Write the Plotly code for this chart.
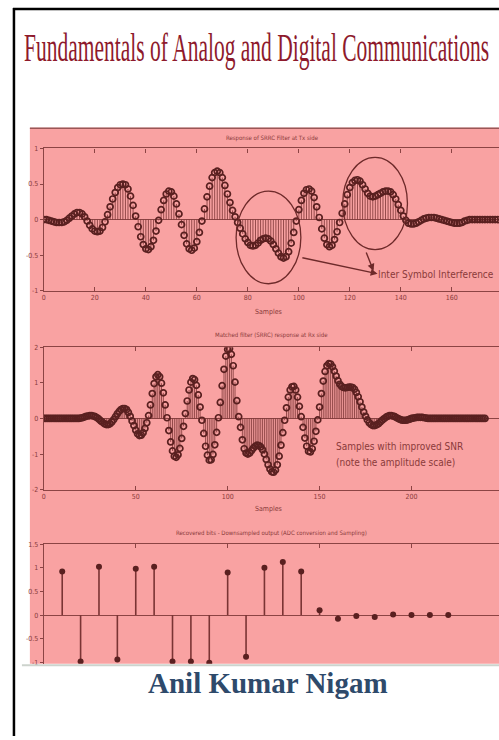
import plotly.graph_objects as go

# ---------------- data ----------------
tx_samples = list(range(0, 179))
tx_values = [
    0.00, 0.00, -0.01, -0.02, -0.03, -0.04, -0.04, -0.04, -0.03, -0.01,
    0.02, 0.05, 0.08, 0.10, 0.10, 0.08, 0.04, -0.02, -0.08, -0.13,
    -0.16, -0.17, -0.16, -0.11, -0.03, 0.07, 0.18, 0.29, 0.38, 0.45,
    0.49, 0.50, 0.49, 0.43, 0.33, 0.20, 0.05, -0.10, -0.24, -0.35,
    -0.41, -0.42, -0.38, -0.29, -0.16, -0.01, 0.14, 0.27, 0.36, 0.40,
    0.39, 0.33, 0.22, 0.08, -0.07, -0.22, -0.34, -0.41, -0.43, -0.40,
    -0.31, -0.18, -0.02, 0.15, 0.32, 0.47, 0.59, 0.66, 0.68, 0.66,
    0.59, 0.48, 0.36, 0.24, 0.13, 0.04, -0.04, -0.12, -0.20, -0.27,
    -0.32, -0.36, -0.37, -0.36, -0.33, -0.29, -0.27, -0.26, -0.27, -0.30,
    -0.35, -0.41, -0.47, -0.52, -0.54, -0.52, -0.45, -0.33, -0.18, -0.02,
    0.14, 0.27, 0.37, 0.42, 0.43, 0.40, 0.31, 0.18, 0.03, -0.13,
    -0.26, -0.35, -0.38, -0.36, -0.28, -0.17, -0.04, 0.09, 0.22, 0.35,
    0.45, 0.52, 0.55, 0.56, 0.54, 0.49, 0.43, 0.37, 0.33, 0.32,
    0.33, 0.35, 0.37, 0.39, 0.40, 0.40, 0.39, 0.35, 0.29, 0.21,
    0.13, 0.05, -0.01, -0.05, -0.06, -0.06, -0.05, -0.03, -0.01, 0.01,
    0.02, 0.03, 0.03, 0.03, 0.02, 0.01, 0.00, -0.01, -0.02, -0.03,
    -0.04, -0.05, -0.05, -0.05, -0.04, -0.02, -0.01, 0.00, 0.00, 0.00,
    0.00, 0.00, 0.00, 0.00, 0.00, 0.00, 0.00, 0.00, 0.00,
]

rx_samples = list(range(0, 241))
rx_values = [
    0.00, 0.00, 0.00, 0.00, 0.00, 0.00, 0.00, 0.00, 0.00, 0.00,
    0.00, 0.00, 0.00, 0.00, 0.00, 0.00, 0.00, 0.00, 0.00, 0.00,
    0.01, 0.02, 0.04, 0.06, 0.07, 0.08, 0.08, 0.07, 0.05, 0.02,
    -0.02, -0.07, -0.11, -0.15, -0.17, -0.17, -0.15, -0.10, -0.03, 0.05,
    0.13, 0.20, 0.25, 0.28, 0.28, 0.25, 0.17, 0.06, -0.07, -0.20,
    -0.33, -0.43, -0.48, -0.47, -0.40, -0.28, -0.12, 0.08, 0.38, 0.70,
    0.98, 1.17, 1.23, 1.17, 0.99, 0.72, 0.38, 0.02, -0.34, -0.66,
    -0.91, -1.06, -1.09, -1.02, -0.84, -0.56, -0.22, 0.14, 0.49, 0.80,
    1.02, 1.12, 1.09, 0.93, 0.66, 0.32, -0.05, -0.42, -0.78, -1.03,
    -1.17, -1.16, -1.01, -0.74, -0.39, 0.02, 0.45, 0.92, 1.38, 1.75,
    1.94, 1.96, 1.80, 1.48, 1.02, 0.50, 0.05, -0.25, -0.60, -0.85,
    -0.97, -1.00, -0.97, -0.90, -0.83, -0.78, -0.75, -0.76, -0.80, -0.88,
    -1.00, -1.15, -1.30, -1.42, -1.50, -1.51, -1.45, -1.30, -1.06, -0.75,
    -0.40, -0.05, 0.30, 0.60, 0.80, 0.89, 0.90, 0.80, 0.60, 0.34,
    0.05, -0.25, -0.55, -0.78, -0.92, -0.94, -0.85, -0.64, -0.36, -0.04,
    0.32, 0.70, 1.05, 1.32, 1.48, 1.54, 1.53, 1.45, 1.33, 1.19,
    1.06, 0.96, 0.90, 0.87, 0.86, 0.87, 0.88, 0.88, 0.87, 0.82,
    0.73, 0.61, 0.47, 0.32, 0.18, 0.06, -0.04, -0.12, -0.17, -0.20,
    -0.20, -0.18, -0.15, -0.10, -0.05, -0.01, 0.03, 0.06, 0.08, 0.08,
    0.07, 0.05, 0.02, -0.01, -0.03, -0.05, -0.05, -0.05, -0.04, -0.02,
    0.00, 0.01, 0.02, 0.03, 0.03, 0.03, 0.03, 0.02, 0.01, 0.00,
    0.00, 0.00, 0.00, 0.00, 0.00, 0.00, 0.00, 0.00, 0.00, 0.00,
    0.00, 0.00, 0.00, 0.00, 0.00, 0.00, 0.00, 0.00, 0.00, 0.00,
    0.00, 0.00, 0.00, 0.00, 0.00, 0.00, 0.00, 0.00, 0.00, 0.00,
    0.00,
]

bit_index = list(range(1, 23))
bit_values = [
    0.92, -0.98, 1.02, -0.94, 0.98, 1.02, -0.98, -0.98, -1.01, 0.90,
    -0.88, 1.00, 1.12, 0.92, 0.10, -0.08, -0.02, -0.04, 0.01, 0.00,
    0.00, 0.00,
]

tx_yticks = [-1, -0.5, 0, 0.5, 1]
tx_ylabels = ["-1", "-0.5", "0", "0.5", "1"]
tx_xticks = [0, 20, 40, 60, 80, 100, 120, 140, 160]
rx_yticks = [-2, -1, 0, 1, 2]
rx_ylabels = ["-2", "-1", "0", "1", "2"]
rx_xticks = [0, 50, 100, 150, 200]
bit_yticks = [-1, -0.5, 0, 0.5, 1, 1.5]
bit_ylabels = ["-1", "-0.5", "0", "0.5", "1", "1.5"]
bit_xticks = [5, 10, 15, 20]

# ---------------- styling ----------------
W, H = 499, 740
PINK = "#f9a2a2"
AXC = "#8c4444"
MARK = "#5a2020"
STEM = "#7a3434"
TXT = "#8a3a3a"
NARROW = "Liberation Sans Narrow, DejaVu Sans Condensed, Liberation Sans, sans-serif"


def px(x):
    return x / W


def py(y):
    return 1 - y / H


def stems(xs, ys):
    sx, sy = [], []
    for x, y in zip(xs, ys):
        sx += [x, x, None]
        sy += [0, y, None]
    return sx, sy


fig = go.Figure()

# plot 1
sx, sy = stems(tx_samples, tx_values)
fig.add_trace(go.Scatter(x=sx, y=sy, mode="lines", line=dict(color=STEM, width=0.8),
                         xaxis="x", yaxis="y", hoverinfo="skip", showlegend=False))
fig.add_trace(go.Scatter(x=tx_samples, y=tx_values, mode="markers",
                         marker=dict(symbol="circle-open", size=6, color=MARK, line=dict(width=1.7, color=MARK)),
                         xaxis="x", yaxis="y", showlegend=False))
# plot 2
sx, sy = stems(rx_samples, rx_values)
fig.add_trace(go.Scatter(x=sx, y=sy, mode="lines", line=dict(color=STEM, width=0.8),
                         xaxis="x2", yaxis="y2", hoverinfo="skip", showlegend=False))
fig.add_trace(go.Scatter(x=rx_samples, y=rx_values, mode="markers",
                         marker=dict(symbol="circle-open", size=6, color=MARK, line=dict(width=1.7, color=MARK)),
                         xaxis="x2", yaxis="y2", showlegend=False))
# plot 3
sx, sy = stems(bit_index, bit_values)
fig.add_trace(go.Scatter(x=sx, y=sy, mode="lines", line=dict(color=STEM, width=1.6),
                         xaxis="x3", yaxis="y3", hoverinfo="skip", showlegend=False))
fig.add_trace(go.Scatter(x=bit_index, y=bit_values, mode="markers",
                         marker=dict(symbol="circle", size=6, color=MARK),
                         xaxis="x3", yaxis="y3", showlegend=False))

tickfont = dict(family=NARROW, size=7, color=TXT)
common_x = dict(showline=True, linecolor=AXC, linewidth=1.2, ticks="inside", ticklen=4,
                tickcolor=AXC, showgrid=False, zeroline=False, tickfont=tickfont)
common_y = dict(showline=True, linecolor=AXC, linewidth=1.2, ticks="outside", ticklen=3,
                tickcolor=AXC, showgrid=False, zeroline=True, zerolinecolor=AXC,
                zerolinewidth=1.2, tickfont=tickfont)

fig.update_layout(
    width=W, height=H, margin=dict(l=0, r=0, t=0, b=0),
    paper_bgcolor="white", plot_bgcolor="rgba(0,0,0,0)",
    xaxis=dict(domain=[px(42), 1], range=[0, 178.5], anchor="y", mirror="ticks",
               tickvals=tx_xticks, **common_x),
    yaxis=dict(domain=[py(290), py(146)], range=[-1, 1], anchor="x",
               tickvals=tx_yticks, ticktext=tx_ylabels, **common_y),
    xaxis2=dict(domain=[px(42), 1], range=[0, 247.6], anchor="y2", mirror="ticks",
                tickvals=rx_xticks, **common_x),
    yaxis2=dict(domain=[py(491), py(347)], range=[-2, 2], anchor="x2",
                tickvals=rx_yticks, ticktext=rx_ylabels, **common_y),
    xaxis3=dict(domain=[px(42), 1], range=[0, 24.76], anchor="y3", side="top",
                showticklabels=False, tickvals=bit_xticks, **common_x),
    yaxis3=dict(domain=[py(667), py(546)], range=[-1.03, 1.5], anchor="x3",
                tickvals=bit_yticks, ticktext=bit_ylabels, **common_y),
)

shapes = [
    # pink panel
    dict(type="rect", xref="paper", yref="paper", x0=px(28), x1=1, y0=py(667), y1=py(125),
         fillcolor=PINK, line=dict(width=0), layer="below"),
    dict(type="line", xref="paper", yref="paper", x0=px(28), x1=1, y0=py(125.5), y1=py(125.5),
         line=dict(color="#9a5656", width=1.5)),
    dict(type="line", xref="paper", yref="paper", x0=px(20), x1=1, y0=py(668.5), y1=py(668.5),
         line=dict(color="#cdd3cd", width=2)),
    # black page border
    dict(type="line", xref="paper", yref="paper", x0=px(12), x1=px(12), y0=0, y1=py(4),
         line=dict(color="black", width=2.5)),
    dict(type="line", xref="paper", yref="paper", x0=px(11), x1=1, y0=py(5), y1=py(5),
         line=dict(color="black", width=2.5)),
    # ISI ellipses (data coords of plot 1)
    dict(type="circle", xref="x", yref="y", x0=75.4, x1=100.8, y0=-0.90, y1=0.40,
         line=dict(color="#6e2a2a", width=1.3)),
    dict(type="circle", xref="x", yref="y", x0=117.2, x1=142.6, y0=-0.42, y1=0.875,
         line=dict(color="#6e2a2a", width=1.3)),
]
fig.update_layout(shapes=shapes)

small = dict(family=NARROW, size=6, color=TXT)
lab = dict(family=NARROW, size=7, color=TXT)
note = dict(family=NARROW, size=10, color="#8a3a3a")

annotations = [
    dict(text="Fundamentals of Analog and Digital Communications", x=px(256), y=py(44),
         font=dict(family="Liberation Serif, Times New Roman, serif", size=21.5, color="#8e1a2c")),
    dict(text="<b>Anil Kumar Nigam</b>", x=px(267), y=py(686),
         font=dict(family="Liberation Serif, Times New Roman, serif", size=29, color="#2e4a6b")),
    dict(text="Response of SRRC Filter at Tx side", x=px(272), y=py(135), font=small),
    dict(text="Samples", x=px(268), y=py(311), font=lab),
    dict(text="Matched filter (SRRC) response at Rx side", x=px(271), y=py(335), font=small),
    dict(text="Samples", x=px(268), y=py(511), font=lab),
    dict(text="Recovered bits - Downsampled output (ADC conversion and Sampling)", x=px(271), y=py(535), font=small),
    dict(text="Inter Symbol Interference", x=px(436), y=py(273), font=note),
    dict(text="Samples with improved SNR", x=px(399), y=py(447), font=note),
    dict(text="(note the amplitude scale)", x=px(395), y=py(464), font=note),
]
for a in annotations:
    a.setdefault("xref", "paper")
    a.setdefault("yref", "paper")
    a.setdefault("showarrow", False)
    a.setdefault("xanchor", "center")
    a.setdefault("yanchor", "middle")

# arrows (data coords of plot 1)
annotations += [
    dict(text="", xref="x", yref="y", axref="x", ayref="y", x=130.9, y=-0.76, ax=100.8, ay=-0.53,
         showarrow=True, arrowhead=2, arrowsize=1, arrowwidth=1.4, arrowcolor="#6e2a2a"),
    dict(text="", xref="x", yref="y", axref="x", ayref="y", x=129.3, y=-0.72, ax=126.2, ay=-0.44,
         showarrow=True, arrowhead=2, arrowsize=1, arrowwidth=1.4, arrowcolor="#6e2a2a"),
]
fig.update_layout(annotations=annotations)

post = (
    "document.body.style.margin='0';document.body.style.overflow='hidden';"
    "document.querySelectorAll('text.annotation-text').forEach(function(t){"
    "if(t.textContent.indexOf('Fundamentals')===0){var b=t.getBBox();var cy=b.y+b.height/2;"
    "t.setAttribute('transform','translate(0,'+cy+') scale(1,1.9) translate(0,'+(-cy)+')');}});"
)
fig.write_html("out.html", config={"displayModeBar": False}, post_script=post)
